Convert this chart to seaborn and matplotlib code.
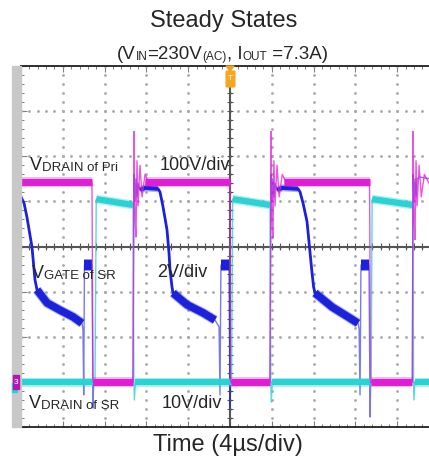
import numpy as np
import pandas as pd
import matplotlib
matplotlib.use("Agg")
import matplotlib.pyplot as plt
import seaborn as sns
from matplotlib.patches import Rectangle, FancyBboxPatch, Polygon

# scope traces, time in us (4 us/div), level in divisions from the centre line
pri_t = [0, 6.79, 6.89, 10.72, 10.81, 10.91, 11.0, 11.1, 11.2, 11.39, 11.58, 11.87, 12.34, 13.11,
         20.0, 20.05, 23.83, 23.92, 24.02, 24.1, 24.2, 24.31, 24.5, 24.7, 25.0, 25.5, 26.5,
         33.35, 33.45, 37.45, 37.51, 37.61, 37.7, 37.8, 37.9, 38.1, 38.3, 38.6, 39.04]
pri_v = [1.43, 1.43, -3.0, -3.0, 2.55, 0.6, 0.21, 1.9, 0.9, 1.8, 1.1, 1.6, 1.35, 1.43,
         1.43, -3.0, -3.0, 2.55, 0.6, 0.19, 1.9, 0.9, 1.8, 1.1, 1.6, 1.35, 1.43,
         1.43, -3.0, -3.0, 2.55, 0.6, 0.15, 1.9, 0.9, 1.8, 1.1, 1.6, 1.4]

sr_t = [0, 7.08, 7.2, 10.72, 10.8, 10.85, 10.95, 20.15, 20.25, 23.83, 23.9, 23.95, 24.05,
        33.5, 33.6, 37.5, 37.56, 37.6, 37.7, 39.04]
sr_v = [-3.0, -3.0, 1.05, 0.92, -3.0, -3.4, -3.0, -3.0, 1.05, 0.92, -3.0, -3.45, -3.0,
        -3.0, 1.05, 0.92, -3.0, -3.4, -3.0, -3.0]

gate_t = [0, 0.29, 0.57, 1.05, 1.34, 1.53, 2.49, 3.73, 4.98, 5.84, 5.93, 6.0, 6.07, 6.79, 6.89, 6.95, 10.72,
          10.81, 10.91, 11.0, 11.1, 11.2, 11.39, 11.87, 13.11, 13.3, 13.59, 13.97, 14.16, 14.26, 14.45, 14.55,
          15.88, 17.42, 18.56, 18.95, 19.04, 19.13, 19.9, 20.0, 20.06, 23.83,
          23.92, 24.02, 24.1, 24.2, 24.31, 24.5, 25.0, 26.51, 26.7, 27.0, 27.37, 27.6, 27.85, 28.0, 28.13,
          29.76, 31.29, 32.25, 32.35, 32.44, 32.53, 33.3, 33.4, 33.46, 37.45,
          37.51, 37.61, 37.7, 37.8, 37.9, 38.18, 39.04]
gate_v = [1.10, 0.96, 0.65, -0.01, -0.74, -0.96, -1.25, -1.41, -1.56, -1.70, -1.85, -3.29, -0.41, -0.41, -3.58, -3.0, -3.0,
          1.6, 1.0, 1.5, 1.1, 1.4, 1.25, 1.30, 1.28, 1.21, 0.88, 0.37, -0.14, -0.52, -0.90, -1.03,
          -1.29, -1.47, -1.63, -1.78, -3.29, -0.41, -0.41, -3.58, -3.0, -3.0,
          1.6, 1.0, 1.5, 1.1, 1.4, 1.25, 1.30, 1.28, 1.21, 0.95, 0.55, 0.0, -0.59, -0.9, -1.03,
          -1.34, -1.56, -1.70, -1.82, -3.29, -0.41, -0.41, -3.78, -3.0, -3.0,
          1.6, 1.0, 1.5, 1.1, 1.5, 1.54, 1.5]

# noisy (thick) parts of each trace: start, end, level
pri_band_t0 = [0, 11.9, 25.2, 6.9, 20.05, 33.45]
pri_band_t1 = [6.79, 20.0, 33.35, 10.72, 23.83, 37.45]
pri_band_v = [1.43, 1.43, 1.43, -3.0, -3.0, -3.0]

sr_band_t0 = [7.2, 20.25, 33.6, 0, 10.95, 24.05, 37.7]
sr_band_t1 = [10.72, 23.83, 37.5, 6.9, 20.05, 33.4, 39.04]
sr_band_v0 = [1.05, 1.05, 1.05, -3.0, -3.0, -3.0, -3.0]
sr_band_v1 = [0.92, 0.92, 0.92, -3.0, -3.0, -3.0, -3.0]

gate_fall = [(0, 1.53), (13.11, 14.55), (26.51, 28.13)]
gate_decay = [(1.53, 5.84), (14.55, 18.6), (28.13, 32.3)]
gate_block = [(6.07, 6.79), (19.13, 19.9), (32.53, 33.3)]
gate_block_v = -0.41
gate_flat = [(11.39, 13.11), (24.5, 26.51)]

MAG = "#e01ed6"
CYA = "#2ad2d4"
BLU = "#1c22dc"

W, H = 429, 457
sns.set_theme(style="white")
plt.rcParams["font.family"] = ["Liberation Sans", "DejaVu Sans"]

fig = plt.figure(figsize=(W / 100, H / 100), dpi=100)
fig.patch.set_facecolor("white")
ax = fig.add_axes([21 / W, 1 - 427 / H, 408 / W, 361 / H])
ax.set_xlim(0, 39.04)
ax.set_ylim(-4, 4)
ax.set_facecolor("white")


def fx(px):
    return px / W


def fy(py):
    return 1 - py / H


# graticule
for k in range(1, 10):
    ys = np.arange(-4, 4.01, 0.2)
    ax.plot(np.full_like(ys, 4 * k), ys, ls="none", marker="s", ms=0.9, color="#a8a8a8", zorder=1)
for k in range(-3, 4):
    xs = np.arange(0, 39.1, 0.8)
    ax.plot(xs, np.full_like(xs, k), ls="none", marker="s", ms=0.9, color="#a8a8a8", zorder=1)
ax.axhline(0, color="#555555", lw=1.5, zorder=1)
ax.axvline(20, color="#555555", lw=1.5, zorder=1)
tx = np.arange(0, 39.1, 0.8)
ax.vlines(tx, -0.07, 0.07, color="#555555", lw=0.8, zorder=1)
ty = np.arange(-4, 4.01, 0.2)
ax.hlines(ty, 19.75, 20.25, color="#555555", lw=0.8, zorder=1)

ax.set_xticks(np.arange(0, 39.1, 4))
ax.set_xticks(np.arange(0, 39.1, 0.8), minor=True)
ax.set_yticks(np.arange(-4, 4.01, 1))
ax.set_yticks(np.arange(-4, 4.01, 0.2), minor=True)
ax.tick_params(which="both", direction="in", top=True, bottom=True, left=True, right=False,
               labelbottom=False, labelleft=False, color="#808080")
ax.tick_params(which="major", length=4, width=0.8)
ax.tick_params(which="minor", length=2.5, width=0.7)
for s in ["top", "left", "bottom"]:
    ax.spines[s].set_color("#202020")
    ax.spines[s].set_linewidth(1.3)
ax.spines["right"].set_visible(False)


def band(x, y, color, lw, z, halo=2.0):
    x = list(x)
    y = list(y)
    ax.plot(x, y, color=color, lw=lw + halo, alpha=0.35, solid_capstyle="butt", zorder=z)
    ax.plot(x, y, color=color, lw=lw, solid_capstyle="butt", zorder=z + 0.1)


# SR gate (drawn below the drains)
gd = pd.DataFrame({"t": gate_t, "v": gate_v})
sns.lineplot(data=gd, x="t", y="v", ax=ax, color=BLU, lw=1.0, alpha=0.6,
             sort=False, estimator=None, zorder=3)
for a, b in gate_fall:
    m = (gd["t"] >= a) & (gd["t"] <= b)
    ax.plot(gd["t"][m], gd["v"][m], color=BLU, lw=2.0, solid_joinstyle="round", zorder=3.1)
for a, b in gate_decay:
    m = (gd["t"] >= a) & (gd["t"] <= b)
    band(gd["t"][m], gd["v"][m], BLU, 5.5, 3.2, halo=1.5)
for a, b in gate_block:
    band([a, b], [gate_block_v, gate_block_v], BLU, 7.5, 3.2, halo=1.0)
for a, b in gate_flat:
    m = (gd["t"] >= a) & (gd["t"] <= b)
    band(gd["t"][m], gd["v"][m], BLU, 3.0, 3.2)

# SR drain
sd = pd.DataFrame({"t": sr_t, "v": sr_v})
sns.lineplot(data=sd, x="t", y="v", ax=ax, color=CYA, lw=1.0, alpha=0.8,
             sort=False, estimator=None, zorder=4)
for a, b, v0, v1 in zip(sr_band_t0, sr_band_t1, sr_band_v0, sr_band_v1):
    band([a, b], [v0, v1], CYA, 4.5, 4.2)

# primary drain
pdf = pd.DataFrame({"t": pri_t, "v": pri_v})
sns.lineplot(data=pdf, x="t", y="v", ax=ax, color=MAG, lw=1.0, alpha=0.75,
             sort=False, estimator=None, zorder=5)
for a, b, v in zip(pri_band_t0, pri_band_t1, pri_band_v):
    band([a, b], [v, v], MAG, 5.0, 5.2)
ax.set_xlabel("")
ax.set_ylabel("")

# left bar with ground marker, trigger marker
fig.patches.append(Rectangle((fx(12), fy(427)), fx(9), (361) / H, transform=fig.transFigure,
                             color="#c8c8c8", zorder=0))
fig.patches.append(Rectangle((fx(12), fy(392)), fx(5), 9 / H, transform=fig.transFigure,
                             color=CYA, zorder=2))
fig.patches.append(Rectangle((fx(12.5), fy(389)), fx(6.5), 14 / H, transform=fig.transFigure,
                             color="#b01ab0", zorder=3))
fig.text(fx(15.7), fy(382), "3", color="white", fontsize=6, ha="center", va="center", zorder=4)
fig.patches.append(Polygon([(fx(226), fy(66)), (fx(234), fy(66)), (fx(230), fy(71))],
                           transform=fig.transFigure, color="#f0a020", zorder=5))
fig.patches.append(FancyBboxPatch((fx(227), fy(86)), fx(7), 14 / H, boxstyle="round,pad=0.002",
                                  transform=fig.transFigure, color="#f5a623", zorder=5))
fig.text(fx(230.5), fy(79), "T", color="#fff2d0", fontsize=6, ha="center", va="center", zorder=6)


def chain(x, y, parts):
    first = fig.text(fx(x), fy(y), parts[0][0], fontsize=parts[0][1], va="baseline", ha="left", zorder=7)
    prev = first
    for s, size in parts[1:]:
        prev = ax.annotate(s, xy=(1, 0), xycoords=prev, fontsize=size, va="bottom", ha="left",
                           annotation_clip=False, zorder=7)


fig.text(fx(224), fy(26.5), "Steady States", fontsize=17, ha="center", va="baseline")
chain(117, 58.5, [("(V", 13.5), ("IN", 8.5), ("=230V", 13.5), ("(AC)", 8.5), (", I", 13.5), ("OUT", 8.5),
                  (" =7.3A)", 13.5)])
fig.text(fx(227.5), fy(451), "Time (4\u00b5s/div)", fontsize=17, ha="center", va="baseline")

chain(30, 170, [("V", 13), ("DRAIN of Pri", 9.5)])
fig.text(fx(160), fy(170), "100V/div", fontsize=13, va="baseline")
chain(32, 278, [("V", 13), ("GATE of SR", 9.5)])
fig.text(fx(157), fy(277), "2V/div", fontsize=13, va="baseline")
chain(29, 408, [("V", 13), ("DRAIN of SR", 9.5)])
fig.text(fx(162), fy(408), "10V/div", fontsize=13, va="baseline")

fig.savefig("out.png", dpi=100)
